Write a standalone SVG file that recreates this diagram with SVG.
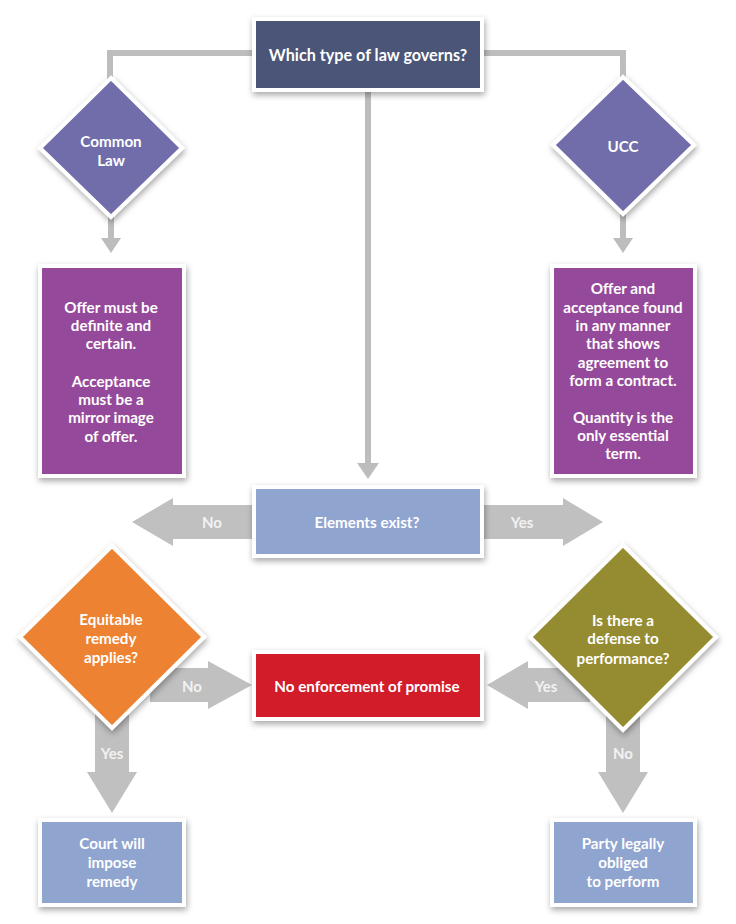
<svg xmlns="http://www.w3.org/2000/svg" width="736" height="924" viewBox="0 0 736 924">
<defs>
<filter id="sh" x="-20%" y="-20%" width="140%" height="140%">
<feDropShadow dx="1" dy="3" stdDeviation="3" flood-color="#000" flood-opacity="0.35"/>
</filter>
</defs>
<style>
.t{font-family:Lato,"Open Sans",sans-serif;font-weight:bold;font-size:15.2px;fill:#ffffff;text-anchor:middle;dominant-baseline:central}
.tt{font-size:16.2px}
.lbl{font-family:Lato,"Open Sans",sans-serif;font-weight:bold;font-size:15px;fill:#f2f2f2;text-anchor:middle;dominant-baseline:central}
.ln{stroke:#bdbdbd;stroke-width:6;fill:none}
.ah{fill:#bdbdbd}
.big{fill:#c0c0c0}
.box{stroke:#ffffff;stroke-width:4;filter:url(#sh)}
</style>
<rect width="736" height="924" fill="#ffffff"/>
<g id="connectors">
<path class="ln" d="M254 53 H110 V80"/>
<path class="ln" d="M482 53 H623 V80"/>
<path class="ln" d="M111 215 V240"/>
<polygon class="ah" points="101,238 121,238 111,253"/>
<path class="ln" d="M623 213 V240"/>
<polygon class="ah" points="613,238 633,238 623,253"/>
<path class="ln" d="M368 90 V465"/>
<polygon class="ah" points="357,463 379,463 368,479"/>
<polygon class="big" points="254,505 173,505 173,498 132,522 173,546 173,539 254,539"/>
<text class="lbl" x="212" y="522">No</text>
<polygon class="big" points="482,505 563,505 563,498 603,522 563,546 563,539 482,539"/>
<text class="lbl" x="522" y="522">Yes</text>
<polygon class="big" points="150,668 208,668 208,661 252,685 208,709 208,702 150,702"/>
<text class="lbl" x="192" y="686">No</text>
<polygon class="big" points="590,668 528,668 528,661 487,685 528,709 528,702 590,702"/>
<text class="lbl" x="546" y="686">Yes</text>
<polygon class="big" points="95,700 129,700 129,772 137,772 112,813 87,772 95,772"/>
<text class="lbl" x="112" y="753">Yes</text>
<polygon class="big" points="606,700 640,700 640,772 648,772 623,813 598,772 606,772"/>
<text class="lbl" x="623" y="753">No</text>
</g>
<g id="node-law">
<rect class="box" x="254" y="19" width="228" height="71" fill="#4b5577"/>
<text class="t tt" x="368" y="54">Which type of law governs?</text>
</g>
<g id="node-common">
<polygon class="box" points="111,78 182,148 111,217 40,148" fill="#6f6daa"/>
<text class="t" x="111" y="141">Common</text>
<text class="t" x="111" y="160">Law</text>
</g>
<g id="node-ucc">
<polygon class="box" points="623,77 694,145 623,214 553,145" fill="#6f6daa"/>
<text class="t" x="623" y="146">UCC</text>
</g>
<g id="node-common-text">
<rect class="box" x="40" y="266" width="144" height="210" fill="#954a9b"/>
<text class="t" x="111" y="307">Offer must be</text>
<text class="t" x="111" y="325">definite and</text>
<text class="t" x="111" y="343">certain.</text>
<text class="t" x="111" y="381">Acceptance</text>
<text class="t" x="111" y="399">must be a</text>
<text class="t" x="111" y="417">mirror image</text>
<text class="t" x="111" y="436">of offer.</text>
</g>
<g id="node-ucc-text">
<rect class="box" x="552" y="266" width="143" height="210" fill="#954a9b"/>
<text class="t" x="623" y="288">Offer and</text>
<text class="t" x="623" y="307">acceptance found</text>
<text class="t" x="623" y="325">in any manner</text>
<text class="t" x="623" y="343">that shows</text>
<text class="t" x="623" y="362">agreement to</text>
<text class="t" x="623" y="380">form a contract.</text>
<text class="t" x="623" y="417">Quantity is the</text>
<text class="t" x="623" y="435">only essential</text>
<text class="t" x="623" y="453">term.</text>
</g>
<g id="node-elements">
<rect class="box" x="254" y="487" width="228" height="69" fill="#8fa4cf"/>
<text class="t" x="367" y="522">Elements exist?</text>
</g>
<g id="node-equitable">
<polygon class="box" points="112,546 204,637 112,728 20,637" fill="#ec8230"/>
<text class="t" x="111" y="619">Equitable</text>
<text class="t" x="111" y="638">remedy</text>
<text class="t" x="111" y="657">applies?</text>
</g>
<g id="node-defense">
<polygon class="box" points="623,545 716,637 623,730 530,637" fill="#958c33"/>
<text class="t" x="623" y="620">Is there a</text>
<text class="t" x="623" y="638">defense to</text>
<text class="t" x="623" y="658">performance?</text>
</g>
<g id="node-noenforce">
<rect class="box" x="254" y="652" width="228" height="67" fill="#d21f2b"/>
<text class="t" x="367" y="686">No enforcement of promise</text>
</g>
<g id="node-court">
<rect class="box" x="40" y="820" width="144" height="85" fill="#8fa4cf"/>
<text class="t" x="112" y="843">Court will</text>
<text class="t" x="112" y="862">impose</text>
<text class="t" x="112" y="881">remedy</text>
</g>
<g id="node-party">
<rect class="box" x="552" y="820" width="143" height="85" fill="#8fa4cf"/>
<text class="t" x="623" y="843">Party legally</text>
<text class="t" x="623" y="862">obliged</text>
<text class="t" x="623" y="881">to perform</text>
</g>
</svg>
